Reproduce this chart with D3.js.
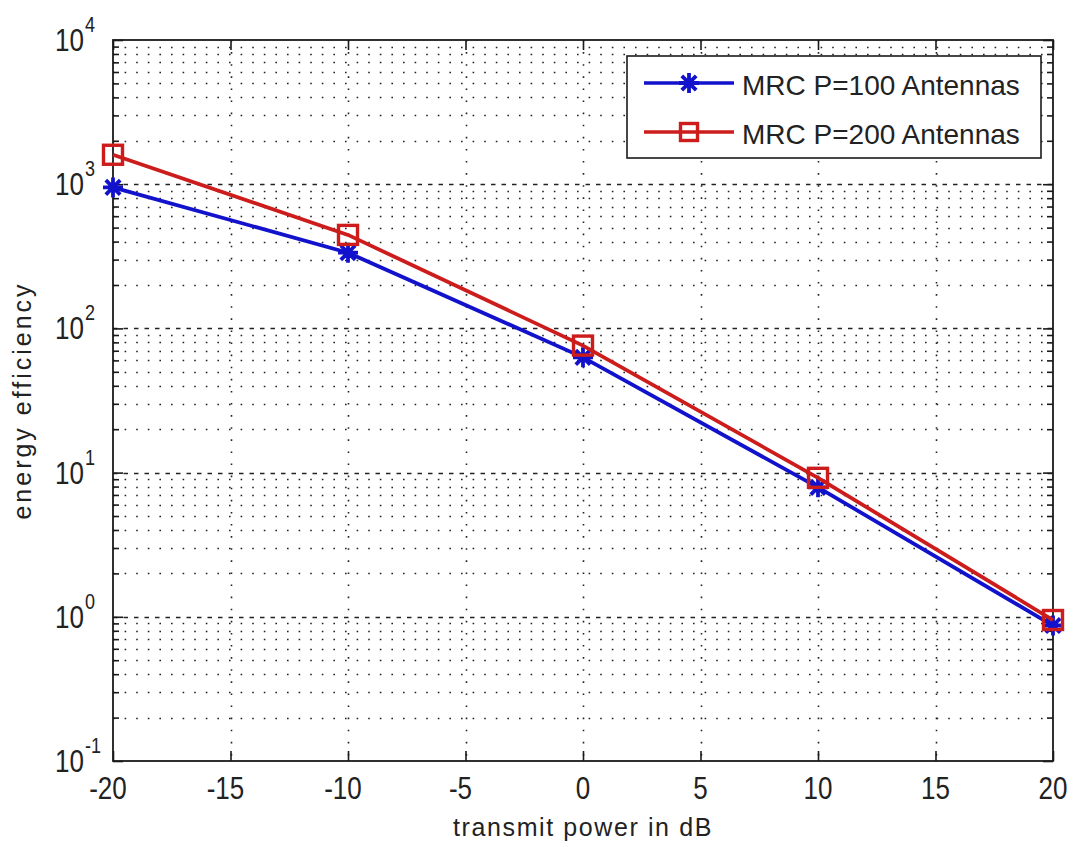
<!DOCTYPE html>
<html>
<head>
<meta charset="utf-8">
<script src="https://cdn.jsdelivr.net/npm/d3@7"></script>
<style>
  html, body { margin: 0; padding: 0; background: #ffffff; }
  svg { display: block; font-family: "Liberation Sans", Arial, Helvetica, sans-serif; }
</style>
</head>
<body>
<svg id="chart" width="1073" height="847"></svg>
<script>
// Transmit power (dB) on x, energy efficiency (log scale) on y
const power = [-20, -10, 0, 10, 20];
const eeP100 = [950, 335, 63, 7.9, 0.87];
const eeP200 = [1600, 445, 76, 9.2, 0.95];

const xTicks = [-20, -15, -10, -5, 0, 5, 10, 15, 20];
const yTicks = [0.1, 1, 10, 100, 1000, 10000];
const yTickExp = ["-1", "0", "1", "2", "3", "4"];

const seriesNames = ["MRC P=100 Antennas", "MRC P=200 Antennas"];
const xLabel = "transmit power in dB";
const yLabel = "energy efficiency";

const blue = "#1212cc";
const red = "#cc1c1c";
const ink = "#1a1a1a";

const svg = d3.select("#chart");
const L = 113, R = 1053, T = 40, B = 761;

const x = d3.scaleLinear().domain([-20, 20]).range([L, R]);
const y = d3.scaleLog().domain([0.1, 10000]).range([B, T]);

// minor log positions 2..9 per decade
const minor = [];
for (let e = -1; e < 4; e++) {
  for (let k = 2; k <= 9; k++) minor.push(k * Math.pow(10, e));
}

const grid = svg.append("g").attr("class", "grid")
  .attr("stroke", "#222").attr("stroke-width", 1.6).attr("fill", "none");

// minor horizontal grid
grid.selectAll("line.minor").data(minor).join("line")
  .attr("class", "minor")
  .attr("x1", L).attr("x2", R)
  .attr("y1", d => Math.round(y(d)) + 0.5).attr("y2", d => Math.round(y(d)) + 0.5)
  .attr("stroke-dasharray", "1.6,10");

// major horizontal grid (decades)
grid.selectAll("line.major").data(yTicks.slice(1, -1)).join("line")
  .attr("class", "major")
  .attr("x1", L).attr("x2", R)
  .attr("y1", d => Math.round(y(d)) + 0.5).attr("y2", d => Math.round(y(d)) + 0.5)
  .attr("stroke-dasharray", "4.5,6");

// vertical grid
grid.selectAll("line.vx").data(xTicks.slice(1, -1)).join("line")
  .attr("class", "vx")
  .attr("x1", d => Math.round(x(d)) + 0.5).attr("x2", d => Math.round(x(d)) + 0.5)
  .attr("y1", T).attr("y2", B)
  .attr("stroke-dasharray", "1.6,10.5");

// axes ticks (inward) on all four sides
const tickStyle = g => {
  g.select(".domain").remove();
  g.selectAll("line").attr("stroke", ink).attr("stroke-width", 1.6);
  g.selectAll("text").remove();
};
svg.append("g").attr("transform", `translate(0,${B})`)
  .call(d3.axisBottom(x).tickValues(xTicks).tickSizeInner(-10).tickFormat(""))
  .call(tickStyle);
svg.append("g").attr("transform", `translate(0,${T})`)
  .call(d3.axisTop(x).tickValues(xTicks).tickSizeInner(-10).tickFormat(""))
  .call(tickStyle);
svg.append("g").attr("transform", `translate(${L},0)`)
  .call(d3.axisLeft(y).tickValues(yTicks).tickSizeInner(-10).tickFormat(""))
  .call(tickStyle);
svg.append("g").attr("transform", `translate(${L},0)`)
  .call(d3.axisLeft(y).tickValues(minor).tickSizeInner(-6).tickFormat(""))
  .call(tickStyle);
svg.append("g").attr("transform", `translate(${R},0)`)
  .call(d3.axisRight(y).tickValues(yTicks).tickSizeInner(-10).tickFormat(""))
  .call(tickStyle);
svg.append("g").attr("transform", `translate(${R},0)`)
  .call(d3.axisRight(y).tickValues(minor).tickSizeInner(-6).tickFormat(""))
  .call(tickStyle);

// plot frame
svg.append("rect")
  .attr("x", L).attr("y", T).attr("width", R - L).attr("height", B - T)
  .attr("fill", "none").attr("stroke", ink).attr("stroke-width", 1.8);

// helper for slightly tall tick text
function tallText(parent, tx, ty, str, size, anchor, sy) {
  const g = parent.append("g").attr("transform", `translate(${tx},${ty}) scale(1,${sy})`);
  g.append("text").attr("x", 0).attr("y", 0)
    .attr("text-anchor", anchor).attr("font-size", size).attr("fill", "#222")
    .text(str);
  return g;
}

// x tick labels
const xl = svg.append("g");
xTicks.forEach(v => {
  const off = v < 0 ? -5 : 0;
  tallText(xl, x(v) + off, 799, String(v), 26, "middle", 1.2);
});

// y tick labels: 10 with superscript exponent
const yl = svg.append("g");
yTicks.forEach((v, i) => {
  const py = y(v);
  tallText(yl, 84, py + 11, "10", 26, "end", 1.2);
  tallText(yl, 85, py - 8, yTickExp[i], 18, "start", 1.2);
});

// axis titles
svg.append("text")
  .attr("x", 583).attr("y", 836)
  .attr("text-anchor", "middle").attr("font-size", 25)
  .attr("letter-spacing", 1.6).attr("fill", "#222")
  .text(xLabel);
svg.append("text")
  .attr("transform", `translate(31,${(T + B) / 2}) rotate(-90)`)
  .attr("text-anchor", "middle").attr("font-size", 25)
  .attr("letter-spacing", 3).attr("fill", "#222")
  .text(yLabel);

// series
const line = d3.line().x(d => x(d[0])).y(d => y(d[1]));
const d100 = power.map((p, i) => [p, eeP100[i]]);
const d200 = power.map((p, i) => [p, eeP200[i]]);

function star(g, cx, cy, r, color) {
  const d = r * 0.72;
  const p = `M${cx - r},${cy}L${cx + r},${cy}M${cx},${cy - r}L${cx},${cy + r}` +
    `M${cx - d},${cy - d}L${cx + d},${cy + d}M${cx - d},${cy + d}L${cx + d},${cy - d}`;
  g.append("path").attr("d", p).attr("stroke", color).attr("stroke-width", 3.8).attr("fill", "none");
}
function square(g, cx, cy, s, color) {
  g.append("rect").attr("x", cx - s / 2).attr("y", cy - s / 2)
    .attr("width", s).attr("height", s)
    .attr("fill", "none").attr("stroke", color).attr("stroke-width", 3.4);
}

const s1 = svg.append("g");
s1.append("path").datum(d100).attr("d", line)
  .attr("fill", "none").attr("stroke", blue).attr("stroke-width", 3.8);
d100.forEach(d => star(s1, x(d[0]), y(d[1]), 10, blue));

const s2 = svg.append("g");
s2.append("path").datum(d200).attr("d", line)
  .attr("fill", "none").attr("stroke", red).attr("stroke-width", 3.8);
d200.forEach(d => square(s2, x(d[0]), y(d[1]), 19, red));

// legend
const lg = svg.append("g");
lg.append("rect").attr("x", 627).attr("y", 56).attr("width", 414).attr("height", 102)
  .attr("fill", "#fff").attr("stroke", ink).attr("stroke-width", 1.6);
const rows = [
  { name: seriesNames[0], color: blue, mark: "star", cy: 83 },
  { name: seriesNames[1], color: red, mark: "square", cy: 132 }
];
rows.forEach(r => {
  lg.append("line").attr("x1", 644).attr("x2", 734).attr("y1", r.cy).attr("y2", r.cy)
    .attr("stroke", r.color).attr("stroke-width", 3.6);
  if (r.mark === "star") star(lg, 689, r.cy, 10, r.color);
  else square(lg, 689, r.cy, 17, r.color);
  lg.append("text").attr("x", 742).attr("y", r.cy + 12)
    .attr("font-size", 28).attr("fill", "#222").text(r.name);
});
</script>
</body>
</html>
